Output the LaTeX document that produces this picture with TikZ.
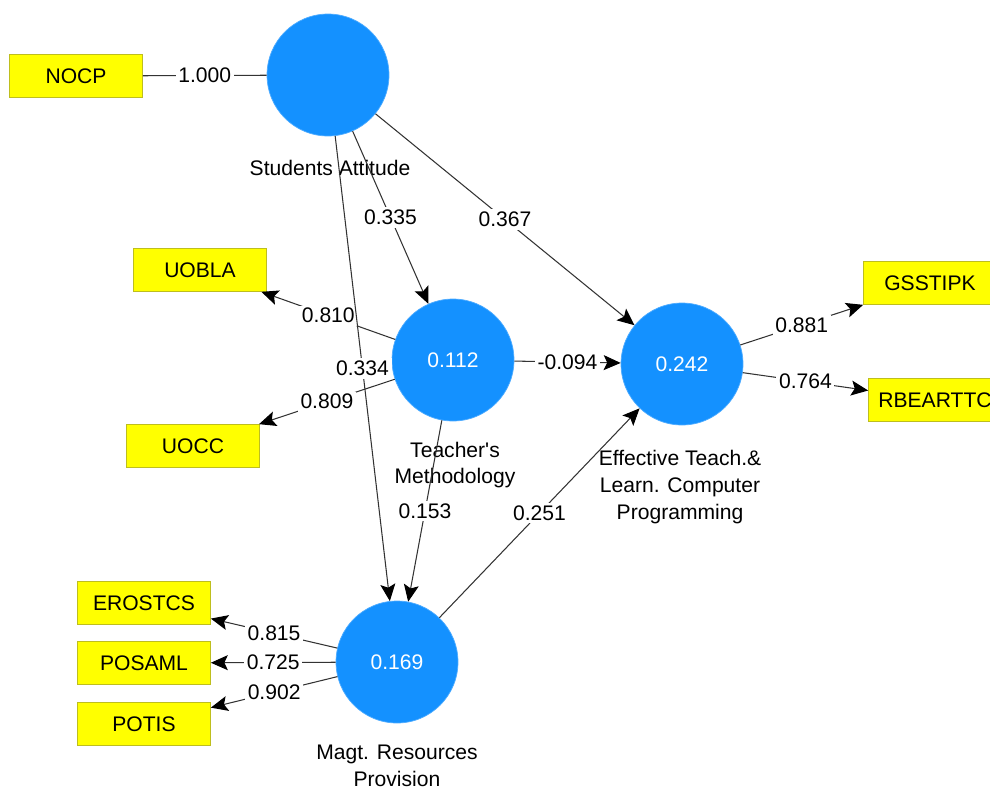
\documentclass[tikz,border=0pt]{standalone}
\usepackage{fontspec}
\setmainfont{Liberation Sans}
\usepackage{tikz}
\usetikzlibrary{arrows.meta}
\definecolor{lvblue}{RGB}{20,145,255}
\definecolor{mvyellow}{RGB}{255,255,0}
\definecolor{mvedge}{RGB}{190,190,30}
\tikzset{
  latent/.style={
    circle, fill=lvblue, draw=lvblue!75!white,
    minimum size=2.44cm, inner sep=0pt, text=white},
  manifest/.style={
    rectangle, fill=mvyellow, draw=mvedge,
    minimum width=2.66cm, minimum height=0.86cm, inner sep=0pt},
  link/.style={draw=black!80, line width=0.6pt},
  effect/.style={
    link, -{Stealth[length=3.4mm,width=3mm,inset=0.7mm,black]}},
  coef/.style={fill=white, inner sep=1.5pt},
  lvname/.style={align=center}
  }

\begin{document}
\begin{tikzpicture}[x=0.02cm, y=-0.02cm,
    every node/.style={font=\fontsize{12}{15.3}\selectfont}]
		\useasboundingbox (0,0) rectangle (990,789);
		\clip (0,0) rectangle (990,789);
		% latent variables
		\node [latent] (sa) at (328,75) {};
		\node [latent] (tm) at (453,360) {0.112};
		\node [latent] (etl) at (682,364) {0.242};
		\node [latent] (mrp) at (397,662) {0.169};
		\node [lvname] (salab) at (330,168) {Students Attitude};
		\node [lvname] (tmlab) at (455,465) {Teacher\textquotesingle s\\Methodology};
		\node [lvname] (etllab) at (680,487) {Effective Teach.\&\\Learn. Computer\\Programming};
		\node [lvname] (mrplab) at (397,766) {Magt. Resources\\Provision};
		% indicators
		\node [manifest] (nocp) at (76,76) {NOCP};
		\node [manifest] (uobla) at (200,270) {UOBLA};
		\node [manifest] (uocc) at (193,446) {UOCC};
		\node [manifest] (gsstipk) at (930,283) {GSSTIPK};
		\node [manifest] (rbearttc) at (935,400) {RBEARTTC};
		\node [manifest] (erostcs) at (144,603) {EROSTCS};
		\node [manifest] (posaml) at (144,663) {POSAML};
		\node [manifest] (potis) at (144,724) {POTIS};
		% outer model
		\draw [link] (nocp) to node [coef] {1.000} (sa);
		\draw [effect] (tm) to node [coef] {0.810} (uobla);
		\draw [effect] (tm) to node [coef] {0.809} (uocc);
		\draw [effect] (etl) to node [coef] {0.881} (gsstipk);
		\draw [effect] (etl) to node [coef] {0.764} (rbearttc);
		\draw [effect] (mrp) to node [coef] {0.815} (erostcs);
		\draw [effect] (mrp) to node [coef] {0.725} (posaml);
		\draw [effect] (mrp) to node [coef] {0.902} (potis);
		% inner model
		\draw [effect] (sa) to node [coef] {0.335} (tm);
		\draw [effect] (sa) to node [coef] {0.367} (etl);
		\draw [effect] (sa) to node [coef] {0.334} (mrp);
		\draw [effect] (tm) to node [coef] {-0.094} (etl);
		\draw [effect] (tm) to node [coef] {0.153} (mrp);
		\draw [effect] (mrp) to node [coef] {0.251} (etl);
	\end{tikzpicture}
\end{document}
